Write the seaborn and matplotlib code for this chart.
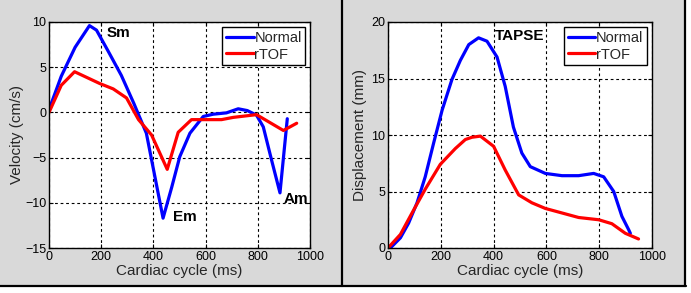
import matplotlib
matplotlib.use("Agg")
import matplotlib.pyplot as plt
import seaborn as sns
import pandas as pd
from matplotlib.lines import Line2D
from matplotlib.patches import Rectangle

# ---- data ----
vel_normal_t = [0, 47, 100, 155, 182, 230, 277, 325, 373, 405, 437, 470, 501, 540, 591, 629, 680, 725, 760, 795, 821, 853, 885, 900, 913]
vel_normal_v = [0.3, 4.0, 7.2, 9.6, 9.1, 6.6, 4.1, 1.0, -2.3, -7.0, -11.7, -8.3, -4.9, -2.3, -0.45, -0.2, -0.05, 0.4, 0.2, -0.3, -1.6, -5.3, -8.9, -4.5, -0.7]
vel_rtof_t = [0, 47, 98, 194, 246, 297, 343, 393, 453, 495, 546, 616, 661, 706, 795, 898, 949]
vel_rtof_v = [0.0, 3.0, 4.5, 3.2, 2.6, 1.6, -0.8, -2.5, -6.3, -2.2, -0.8, -0.8, -0.8, -0.55, -0.25, -2.0, -1.2]

disp_normal_t = [9, 47, 78, 110, 141, 173, 205, 242, 274, 306, 343, 375, 413, 444, 475, 507, 539, 596, 659, 722, 779, 817, 855, 886, 912, 918]
disp_normal_v = [0.0, 0.9, 2.2, 4.0, 6.3, 9.3, 12.2, 14.9, 16.6, 18.0, 18.6, 18.3, 16.9, 14.3, 10.7, 8.4, 7.2, 6.6, 6.4, 6.4, 6.6, 6.3, 5.0, 2.8, 1.6, 1.3]
disp_rtof_t = [0, 47, 91, 141, 198, 255, 293, 318, 350, 400, 444, 495, 545, 596, 659, 722, 798, 848, 899, 949]
disp_rtof_v = [0.0, 1.2, 3.1, 5.2, 7.4, 8.8, 9.6, 9.8, 9.9, 9.0, 6.9, 4.7, 4.0, 3.5, 3.1, 2.7, 2.5, 2.15, 1.3, 0.8]

series_names = ["Normal", "rTOF"]
series_colors = ["#0000ff", "#ff0000"]

vel_df = pd.concat([
    pd.DataFrame({"t": vel_normal_t, "v": vel_normal_v, "group": "Normal"}),
    pd.DataFrame({"t": vel_rtof_t, "v": vel_rtof_v, "group": "rTOF"}),
])
disp_df = pd.concat([
    pd.DataFrame({"t": disp_normal_t, "v": disp_normal_v, "group": "Normal"}),
    pd.DataFrame({"t": disp_rtof_t, "v": disp_rtof_v, "group": "rTOF"}),
])

sns.set_theme(style="white")
plt.rcParams["font.family"] = ["Liberation Sans", "DejaVu Sans"]

W, H = 691, 293
bg = "#d9d9d9"
fig = plt.figure(figsize=(W / 100, H / 100), dpi=100)
fig.patch.set_facecolor("white")

# grey panel background and black borders
fig.patches.append(Rectangle((0, 1 - 286 / H), 685 / W, 286 / H, transform=fig.transFigure,
                             facecolor=bg, edgecolor="none", zorder=-10))
for (x0, y0, x1, y1) in [(0, 286, 686, 286), (342, 0, 342, 286), (685, 0, 685, 286)]:
    fig.add_artist(Line2D([x0 / W, x1 / W], [1 - y0 / H, 1 - y1 / H], transform=fig.transFigure,
                          color="black", lw=1.6))


def px_axes(x0, y0, x1, y1):
    return fig.add_axes([x0 / W, 1 - y1 / H, (x1 - x0) / W, (y1 - y0) / H])


ax1 = px_axes(49, 22, 310, 248)
ax2 = px_axes(388, 22, 652, 248)

palette = dict(zip(series_names, series_colors))
for ax, df in [(ax1, vel_df), (ax2, disp_df)]:
    sns.lineplot(data=df, x="t", y="v", hue="group", palette=palette, sort=False,
                 estimator=None, lw=2.3, ax=ax, legend=False)
    ax.set_facecolor("white")
    ax.set_xlim(0, 1000)
    ax.set_xticks([0, 200, 400, 600, 800, 1000])
    ax.grid(True, color="black", linestyle=(0, (2.5, 2.5)), linewidth=0.8)
    for s in ax.spines.values():
        s.set_color("black")
        s.set_linewidth(1.0)
        s.set_visible(True)
    ax.tick_params(direction="in", length=3, width=0.8, labelsize=9, colors="black",
                   top=True, right=True, bottom=True, left=True, pad=2)
    ax.set_xlabel("Cardiac cycle (ms)", fontsize=11, labelpad=1)
    handles = [Line2D([], [], color=c, lw=2.3) for c in series_colors]
    leg = ax.legend(handles, series_names, loc="upper right", fontsize=10.5, frameon=True,
                    fancybox=False, edgecolor="black", framealpha=1, handlelength=1.9,
                    handletextpad=0.05, borderpad=0.25, labelspacing=0.2, borderaxespad=0.0,
                    bbox_to_anchor=(0.982, 0.978))
    leg.get_frame().set_linewidth(1.0)

ax1.set_ylim(-15, 10)
ax1.set_yticks([-15, -10, -5, 0, 5, 10])
ax1.set_ylabel("Velocity (cm/s)", fontsize=11, labelpad=1)
ax2.set_ylim(0, 20)
ax2.set_yticks([0, 5, 10, 15, 20])
ax2.set_ylabel("Displacement (mm)", fontsize=11, labelpad=3)

ann = dict(fontsize=11, fontweight="bold", color="black", va="center", ha="left")
ax1.text(220, 8.8, "Sm", **ann)
ax1.text(475, -11.6, "Em", **ann)
ax1.text(900, -9.6, "Am", **ann)
ax2.text(405, 18.8, "TAPSE", **ann)

fig.savefig("out.png", dpi=100, facecolor=fig.get_facecolor())
